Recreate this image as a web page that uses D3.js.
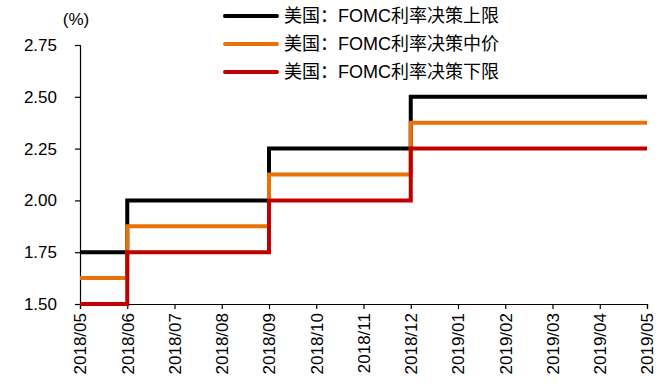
<!DOCTYPE html>
<html>
<head>
<meta charset="utf-8">
<script src="https://cdn.jsdelivr.net/npm/d3@7"></script>
<style>
  body { margin: 0; background: #fff; }
  svg { display: block; }
</style>
</head>
<body>
<svg id="chart" width="659" height="387"></svg>
<script>
// Monthly observations of the FOMC target range
const months = ["2018/05","2018/06","2018/07","2018/08","2018/09","2018/10","2018/11","2018/12","2019/01","2019/02","2019/03","2019/04","2019/05"];
const upper = [1.75, 2.00, 2.00, 2.00, 2.25, 2.25, 2.25, 2.50, 2.50, 2.50, 2.50, 2.50, 2.50];
const mid   = [1.625, 1.875, 1.875, 1.875, 2.125, 2.125, 2.125, 2.375, 2.375, 2.375, 2.375, 2.375, 2.375];
const lower = [1.50, 1.75, 1.75, 1.75, 2.00, 2.00, 2.00, 2.25, 2.25, 2.25, 2.25, 2.25, 2.25];
const yTicks = [1.50, 1.75, 2.00, 2.25, 2.50, 2.75];
const seriesNames = ["美国：FOMC利率决策上限", "美国：FOMC利率决策中价", "美国：FOMC利率决策下限"];
const seriesColors = ["#000000", "#E8710A", "#C00000"];

const svg = d3.select("#chart");
const plot = { left: 80, right: 647, top: 45, bottom: 304 };

const x = d3.scalePoint().domain(months).range([plot.left, plot.right]);
const y = d3.scaleLinear().domain([1.5, 2.75]).range([plot.bottom, plot.top]);

const font = "Arial, 'Liberation Sans', sans-serif";

// Y axis
const yAxis = svg.append("g")
  .attr("transform", `translate(${plot.left},0)`)
  .call(d3.axisLeft(y).tickValues(yTicks).tickFormat(d3.format(".2f")).tickSizeOuter(0).tickSize(5).tickPadding(18));
yAxis.select(".domain").attr("stroke", "#000").attr("stroke-width", 1.2);
yAxis.selectAll(".tick line").attr("stroke", "#000").attr("stroke-width", 1.2);
yAxis.selectAll("text").attr("font-family", font).attr("font-size", 17).attr("fill", "#000");

// X axis
const xAxis = svg.append("g")
  .attr("transform", `translate(0,${plot.bottom})`)
  .call(d3.axisBottom(x).tickSizeOuter(0).tickSize(5));
xAxis.select(".domain").attr("stroke", "#000").attr("stroke-width", 1.2);
xAxis.selectAll(".tick line").attr("stroke", "#000").attr("stroke-width", 1.2);
xAxis.selectAll("text")
  .attr("font-family", font).attr("font-size", 17).attr("fill", "#000")
  .attr("transform", "rotate(-90)")
  .attr("text-anchor", "end")
  .attr("x", -9).attr("y", 0).attr("dy", "0.35em");

// Unit label
svg.append("text").attr("x", 76).attr("y", 25)
  .attr("text-anchor", "middle")
  .attr("font-family", font).attr("font-size", 17).attr("fill", "#000")
  .text("(%)");

// Step lines
const line = d3.line()
  .x((d, i) => x(months[i]))
  .y(d => y(d))
  .curve(d3.curveStepAfter);

[upper, mid, lower].forEach((vals, k) => {
  svg.append("path")
    .datum(vals)
    .attr("d", line)
    .attr("fill", "none")
    .attr("stroke", seriesColors[k])
    .attr("stroke-width", 4);
});

// Legend
const legend = svg.append("g");
seriesNames.forEach((name, k) => {
  const ly = 16 + k * 28;
  legend.append("line")
    .attr("x1", 225).attr("x2", 277).attr("y1", ly).attr("y2", ly)
    .attr("stroke", seriesColors[k]).attr("stroke-width", 4).attr("stroke-linecap", "round");
  legend.append("text")
    .attr("x", 284).attr("y", ly).attr("dy", "0.36em")
    .attr("font-family", "Arial, 'Noto Sans CJK SC', sans-serif")
    .attr("font-size", 18).attr("fill", "#000")
    .text(name);
});
</script>
</body>
</html>
